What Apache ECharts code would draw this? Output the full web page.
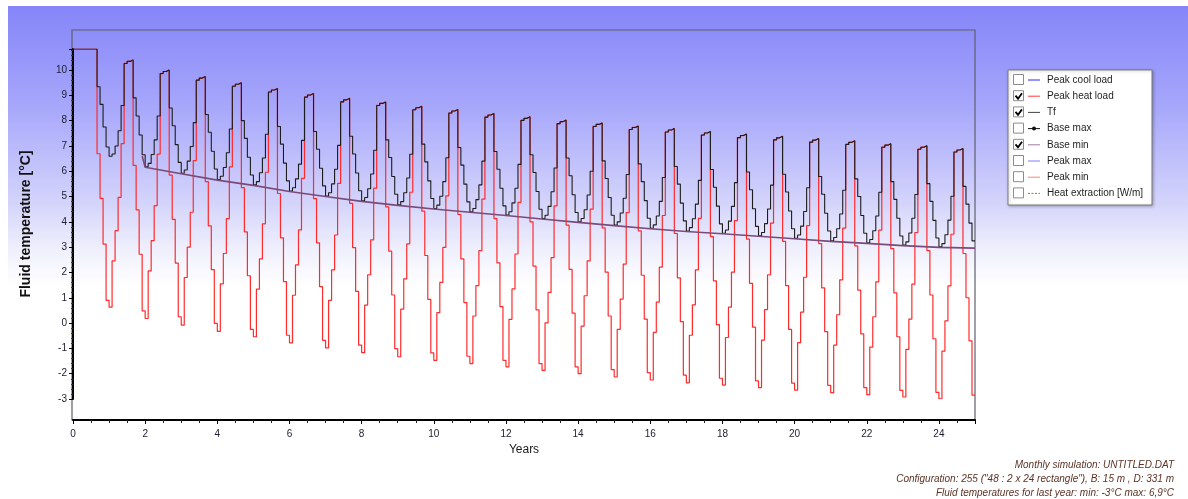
<!DOCTYPE html>
<html>
<head>
<meta charset="utf-8">
<script src="https://cdn.jsdelivr.net/npm/echarts@6/dist/echarts.min.js"></script>
<style>
  html, body { margin: 0; padding: 0; background: #fff; }
  #chart { width: 1188px; height: 499px; }
</style>
</head>
<body>
<div id="chart"></div>
<script>
const monthsPerYear = 12;

// Tf [°C], one value per month, one row per year (year 0 .. 24)
const tfValues = [
  10.83, 10.83, 10.83, 10.83, 10.83, 10.83, 10.83, 10.83, 9.34, 8.64, 7.75, 6.96,
  6.59, 6.68, 7.00, 7.60, 8.60, 10.26, 10.34, 10.40, 8.90, 8.18, 7.43, 6.65,
  6.18, 6.31, 6.66, 7.24, 8.18, 9.86, 9.94, 10.00, 8.50, 7.80, 7.05, 6.35,
  5.92, 6.05, 6.40, 6.98, 7.92, 9.60, 9.68, 9.74, 8.24, 7.54, 6.79, 6.09,
  5.67, 5.80, 6.15, 6.73, 7.67, 9.36, 9.44, 9.50, 8.00, 7.30, 6.55, 5.85,
  5.46, 5.59, 5.94, 6.52, 7.46, 9.13, 9.21, 9.27, 7.77, 7.07, 6.32, 5.62,
  5.22, 5.35, 5.70, 6.28, 7.22, 8.93, 9.01, 9.07, 7.57, 6.87, 6.12, 5.42,
  5.02, 5.15, 5.50, 6.08, 7.02, 8.74, 8.82, 8.88, 7.38, 6.68, 5.93, 5.23,
  4.83, 4.96, 5.31, 5.89, 6.83, 8.60, 8.68, 8.74, 7.24, 6.54, 5.79, 5.09,
  4.67, 4.80, 5.15, 5.73, 6.67, 8.43, 8.51, 8.57, 7.07, 6.37, 5.62, 4.92,
  4.53, 4.66, 5.01, 5.59, 6.53, 8.30, 8.38, 8.44, 6.94, 6.24, 5.49, 4.79,
  4.40, 4.53, 4.88, 5.46, 6.40, 8.14, 8.22, 8.28, 6.78, 6.08, 5.33, 4.63,
  4.27, 4.40, 4.75, 5.33, 6.27, 8.01, 8.09, 8.15, 6.65, 5.95, 5.20, 4.50,
  4.13, 4.26, 4.61, 5.19, 6.13, 7.88, 7.96, 8.02, 6.52, 5.82, 5.07, 4.37,
  4.00, 4.13, 4.48, 5.06, 6.00, 7.77, 7.85, 7.91, 6.41, 5.71, 4.96, 4.26,
  3.87, 4.00, 4.35, 4.93, 5.87, 7.65, 7.73, 7.79, 6.29, 5.59, 4.84, 4.14,
  3.75, 3.88, 4.23, 4.81, 5.75, 7.55, 7.63, 7.69, 6.19, 5.49, 4.74, 4.04,
  3.64, 3.77, 4.12, 4.70, 5.64, 7.43, 7.51, 7.57, 6.07, 5.37, 4.62, 3.92,
  3.55, 3.68, 4.03, 4.61, 5.55, 7.33, 7.41, 7.47, 5.97, 5.27, 4.52, 3.82,
  3.45, 3.58, 3.93, 4.51, 5.45, 7.24, 7.32, 7.38, 5.88, 5.18, 4.43, 3.73,
  3.35, 3.48, 3.83, 4.41, 5.35, 7.15, 7.23, 7.29, 5.79, 5.09, 4.34, 3.64,
  3.25, 3.38, 3.73, 4.31, 5.25, 7.06, 7.14, 7.20, 5.70, 5.00, 4.25, 3.55,
  3.17, 3.30, 3.65, 4.23, 5.17, 6.95, 7.03, 7.09, 5.59, 4.89, 4.14, 3.44,
  3.08, 3.21, 3.56, 4.14, 5.08, 6.87, 6.95, 7.01, 5.51, 4.81, 4.06, 3.36,
  3.01, 3.14, 3.49, 4.07, 5.01, 6.76, 6.84, 6.90, 5.40, 4.70, 3.95, 3.25
];

// Fluid temperature at peak heat load [°C], monthly
const peakHeatValues = [
  10.83, 10.83, 10.83, 10.83, 10.83, 10.83, 10.83, 10.83, 6.69, 4.93, 3.12, 0.90,
  0.63, 2.46, 3.65, 4.97, 7.09, 10.26, 10.34, 10.40, 6.23, 4.47, 2.72, 0.48,
  0.18, 2.06, 3.26, 4.64, 6.68, 9.86, 9.94, 10.00, 5.85, 4.10, 2.37, 0.25,
  -0.08, 1.80, 3.00, 4.38, 6.42, 9.60, 9.68, 9.74, 5.59, 3.84, 2.11, -0.01,
  -0.33, 1.55, 2.75, 4.13, 6.17, 9.36, 9.44, 9.50, 5.35, 3.60, 1.87, -0.25,
  -0.54, 1.34, 2.54, 3.92, 5.96, 9.13, 9.21, 9.27, 5.12, 3.37, 1.64, -0.48,
  -0.78, 1.10, 2.30, 3.68, 5.72, 8.93, 9.01, 9.07, 4.92, 3.17, 1.44, -0.68,
  -0.98, 0.90, 2.10, 3.48, 5.52, 8.74, 8.82, 8.88, 4.73, 2.98, 1.25, -0.87,
  -1.17, 0.71, 1.91, 3.29, 5.33, 8.60, 8.68, 8.74, 4.59, 2.84, 1.11, -1.01,
  -1.33, 0.55, 1.75, 3.13, 5.17, 8.43, 8.51, 8.57, 4.42, 2.67, 0.94, -1.18,
  -1.47, 0.41, 1.61, 2.99, 5.03, 8.30, 8.38, 8.44, 4.29, 2.54, 0.81, -1.31,
  -1.60, 0.28, 1.48, 2.86, 4.90, 8.14, 8.22, 8.28, 4.13, 2.38, 0.65, -1.47,
  -1.73, 0.15, 1.35, 2.73, 4.77, 8.01, 8.09, 8.15, 4.00, 2.25, 0.52, -1.60,
  -1.87, 0.01, 1.21, 2.59, 4.63, 7.88, 7.96, 8.02, 3.87, 2.12, 0.39, -1.73,
  -2.00, -0.12, 1.08, 2.46, 4.50, 7.77, 7.85, 7.91, 3.76, 2.01, 0.28, -1.84,
  -2.13, -0.25, 0.95, 2.33, 4.37, 7.65, 7.73, 7.79, 3.64, 1.89, 0.16, -1.96,
  -2.25, -0.37, 0.83, 2.21, 4.25, 7.55, 7.63, 7.69, 3.54, 1.79, 0.06, -2.06,
  -2.36, -0.48, 0.72, 2.10, 4.14, 7.43, 7.51, 7.57, 3.42, 1.67, -0.06, -2.18,
  -2.45, -0.57, 0.63, 2.01, 4.05, 7.33, 7.41, 7.47, 3.32, 1.57, -0.16, -2.28,
  -2.55, -0.67, 0.53, 1.91, 3.95, 7.24, 7.32, 7.38, 3.23, 1.48, -0.25, -2.37,
  -2.65, -0.77, 0.43, 1.81, 3.85, 7.15, 7.23, 7.29, 3.14, 1.39, -0.34, -2.46,
  -2.75, -0.87, 0.33, 1.71, 3.75, 7.06, 7.14, 7.20, 3.05, 1.30, -0.43, -2.55,
  -2.83, -0.95, 0.25, 1.63, 3.67, 6.95, 7.03, 7.09, 2.94, 1.19, -0.54, -2.66,
  -2.92, -1.04, 0.16, 1.54, 3.58, 6.87, 6.95, 7.01, 2.86, 1.11, -0.62, -2.74,
  -2.99, -1.11, 0.09, 1.47, 3.51, 6.76, 6.84, 6.90, 2.75, 1.00, -0.70, -2.85
];

// Base min [°C]
const baseMinYears = [1.917, 2, 3, 4, 5, 6, 7, 8, 9, 10, 11, 12, 13, 14, 15, 16, 17, 18, 19, 20, 21, 22, 23, 24, 25];
const baseMinValues = [6.60, 6.16, 5.90, 5.65, 5.44, 5.20, 5.00, 4.81, 4.65, 4.51, 4.38, 4.25, 4.11, 3.98, 3.85, 3.73, 3.62, 3.53, 3.43, 3.33, 3.23, 3.15, 3.06, 2.99, 2.96];

const legendNames = ["Peak cool load", "Peak heat load", "Tf", "Base max", "Base min", "Peak max", "Peak min", "Heat extraction [W/m]"];
const legendChecked = [false, true, true, false, true, false, false, false];
const legendColors = ["#2b2bff", "#ff3b3b", "#444444", "#111111", "#a07fa0", "#7f7fff", "#ff8080", "#3fa63f"];

const infoLines = [
  "Monthly simulation: UNTITLED.DAT",
  "Configuration: 255 (\"48 : 2 x 24 rectangle\"), B: 15 m , D: 331 m",
  "Fluid temperatures for last year: min: -3°C max: 6,9°C"
];

const font = "Liberation Sans, Arial, sans-serif";

// monthly values -> step points in years
const toSteps = vals => {
  const pts = vals.map((v, i) => [i / monthsPerYear, v]);
  pts.push([vals.length / monthsPerYear, vals[vals.length - 1]]);
  return pts;
};

const legendGraphics = () => {
  const x0 = 1008, y0 = 70, rowH = 16.2;
  const children = [{
    type: "rect",
    shape: { x: x0, y: y0, width: 144, height: 135 },
    style: { fill: "#fff", stroke: "#7a7a7a", lineWidth: 1, shadowBlur: 3, shadowColor: "rgba(0,0,0,0.25)", shadowOffsetX: 1, shadowOffsetY: 1 }
  }];
  legendNames.forEach((name, i) => {
    const cy = y0 + 10 + rowH * i;
    children.push({
      type: "rect",
      shape: { x: x0 + 5.5, y: cy - 5.5, width: 10, height: 10 },
      style: { fill: "#fff", stroke: "#8c8c8c", lineWidth: 1 }
    });
    if (legendChecked[i]) {
      children.push({
        type: "polyline",
        shape: { points: [[x0 + 7.5, cy - 0.5], [x0 + 10, cy + 2.5], [x0 + 14, cy - 3]] },
        style: { stroke: "#000", lineWidth: 1.8, fill: null }
      });
    }
    children.push({
      type: "line",
      shape: { x1: x0 + 20, y1: cy, x2: x0 + 32, y2: cy },
      style: { stroke: legendColors[i], lineWidth: 1, lineDash: i === 7 ? [2, 1.5] : null }
    });
    if (i === 3) {
      children.push({
        type: "circle",
        shape: { cx: x0 + 26, cy: cy, r: 2 },
        style: { fill: "#111" }
      });
    }
    children.push({
      type: "text",
      x: x0 + 39, y: cy,
      style: { text: name, fill: "#1e1e1e", font: "10px " + font, verticalAlign: "middle" }
    });
  });
  return children;
};

const chart = echarts.init(document.getElementById("chart"));

chart.setOption({
  animation: false,
  graphic: [
    {
      type: "rect",
      z: -100,
      shape: { x: 8, y: 6, width: 1180, height: 493 },
      style: {
        fill: new echarts.graphic.LinearGradient(0, 0, 0, 1, [
          { offset: 0, color: "#8585f9" },
          { offset: 0.2, color: "#a6a6fb" },
          { offset: 0.4, color: "#d4d4fb" },
          { offset: 0.5, color: "#f1f1fd" },
          { offset: 0.57, color: "#ffffff" },
          { offset: 1, color: "#ffffff" }
        ])
      }
    },
    { type: "group", children: legendGraphics() },
    ...infoLines.map((t, i) => ({
      type: "text",
      x: 1174, y: 465 + 14 * i,
      style: { text: t, fill: "#5c3326", font: "italic 10px " + font, align: "right", verticalAlign: "middle" }
    }))
  ],
  grid: [
    { left: 73, top: 49, width: 902, height: 350 },
    { left: 72, top: 30, width: 903, height: 390, show: true, borderColor: "#5f5f6e", borderWidth: 1.2, backgroundColor: "transparent" }
  ],
  xAxis: [
    {
      type: "value",
      gridIndex: 0,
      min: 0,
      max: 25,
      interval: 2,
      offset: 21,
      name: "Years",
      nameLocation: "middle",
      nameGap: 21,
      nameTextStyle: { fontFamily: font, fontSize: 12, color: "#1a1a1a" },
      axisLine: { onZero: false, lineStyle: { color: "#000", width: 2 } },
      axisTick: { length: 4, lineStyle: { color: "#000" } },
      minorTick: { show: true, splitNumber: 4, length: 3, lineStyle: { color: "#222" } },
      splitLine: { show: false },
      axisLabel: { showMaxLabel: false, fontFamily: font, fontSize: 10, color: "#1c1c30", margin: 9 }
    },
    { type: "value", gridIndex: 1, show: false, min: 0, max: 1 }
  ],
  yAxis: [
    {
      type: "value",
      gridIndex: 0,
      min: -3,
      max: 10.83,
      interval: 1,
      name: "Fluid temperature [°C]",
      nameLocation: "middle",
      nameGap: 40,
      nameRotate: 90,
      nameTextStyle: { fontFamily: font, fontSize: 14, fontWeight: "bold", color: "#111" },
      axisLine: { show: true, onZero: false, lineStyle: { color: "#000", width: 2 } },
      axisTick: { show: true, length: 4, lineStyle: { color: "#000" } },
      minorTick: { show: true, splitNumber: 5, length: 2, lineStyle: { color: "#333" } },
      splitLine: { show: false },
      axisLabel: { showMaxLabel: false, fontFamily: font, fontSize: 10, color: "#1c1c30", margin: 6 }
    },
    { type: "value", gridIndex: 1, show: false, min: 0, max: 1 }
  ],
  series: [
    {
      name: "Peak heat load",
      type: "line",
      step: "end",
      showSymbol: false,
      data: toSteps(peakHeatValues),
      lineStyle: { color: "#ff2b2b", width: 1.2 },
      z: 2
    },
    {
      name: "Tf",
      type: "line",
      step: "end",
      showSymbol: false,
      data: toSteps(tfValues),
      lineStyle: { color: "#1c1c1c", width: 1.1 },
      z: 3
    },
    {
      name: "Base min",
      type: "line",
      showSymbol: false,
      data: baseMinYears.map((y, i) => [y, baseMinValues[i]]),
      lineStyle: { color: "#7a4a7a", width: 1.6 },
      z: 4
    }
  ]
});
</script>
</body>
</html>
